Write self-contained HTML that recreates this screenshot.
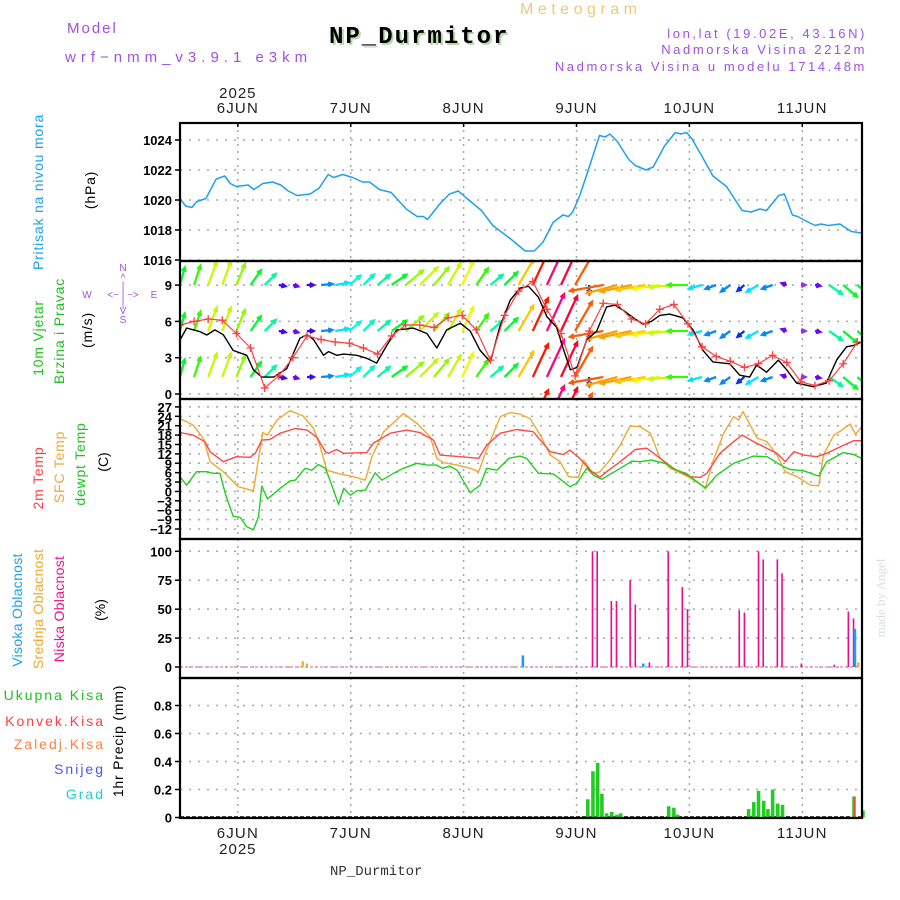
<!DOCTYPE html>
<html><head><meta charset="utf-8"><title>Meteogram NP_Durmitor</title>
<style>
html,body{margin:0;padding:0;background:#fff;}
svg{display:block;font-family:"Liberation Sans",sans-serif;}
</style></head>
<body>
<svg id="chart" width="900" height="900" viewBox="0 0 900 900" xmlns="http://www.w3.org/2000/svg">
<rect x="0" y="0" width="900" height="900" fill="#fff"/>
<g>
<text x="67" y="33" font-size="15" fill="#a050e0" letter-spacing="2">Model</text>
<text x="65" y="62" font-size="15" fill="#a050e0" letter-spacing="5">wrf−nmm_v3.9.1 e3km</text>
<text x="520" y="14" font-size="16" fill="#f0c878" letter-spacing="4.5">Meteogram</text>
<text x="331" y="45" font-size="24" font-weight="bold" font-family="Liberation Mono, monospace" fill="#b8d8b0" letter-spacing="2">NP_Durmitor</text>
<text x="329" y="43" font-size="24" font-weight="bold" font-family="Liberation Mono, monospace" fill="#000" letter-spacing="2">NP_Durmitor</text>
<text x="867" y="38" font-size="13" fill="#a050e0" text-anchor="end" letter-spacing="2.6">lon,lat (19.02E, 43.16N)</text>
<text x="867" y="54" font-size="13" fill="#a050e0" text-anchor="end" letter-spacing="2.6">Nadmorska Visina 2212m</text>
<text x="867" y="71" font-size="13" fill="#a050e0" text-anchor="end" letter-spacing="2.6">Nadmorska Visina u modelu 1714.48m</text>
</g>
<g id="grid"></g>
<g id="marks"></g>
<g id="frames"></g>
<g id="axes"></g>
<g>
<text transform="translate(43,192) rotate(-90)" font-size="14" fill="#1ea0f0" text-anchor="middle" letter-spacing="0.8">Pritisak na nivou mora</text>
<text transform="translate(95,190) rotate(-90)" font-size="14" fill="#000" text-anchor="middle" letter-spacing="0.8">(hPa)</text>
<text transform="translate(43,338) rotate(-90)" font-size="14" fill="#20c020" text-anchor="middle" letter-spacing="0.8">10m Vjetar</text>
<text transform="translate(64,331) rotate(-90)" font-size="14" fill="#20c020" text-anchor="middle" letter-spacing="0.8">Brzina i Pravac</text>
<text transform="translate(92,330) rotate(-90)" font-size="14" fill="#000" text-anchor="middle" letter-spacing="0.8">(m/s)</text>
<g fill="#a050e0" font-size="10" text-anchor="middle">
<text x="123" y="271">N</text><text x="123" y="281">^</text><text x="123" y="289">|</text>
<text x="87" y="298">W</text><text x="123" y="298">&lt;− | −&gt;</text><text x="154" y="298">E</text>
<text x="123" y="307">|</text><text x="123" y="314">V</text><text x="123" y="323">S</text>
</g>
<text transform="translate(43,478) rotate(-90)" font-size="14" fill="#ff4040" text-anchor="middle" letter-spacing="0.8">2m Temp</text>
<text transform="translate(64,467) rotate(-90)" font-size="14" fill="#f0a830" text-anchor="middle" letter-spacing="0.8">SFC Temp</text>
<text transform="translate(85,464) rotate(-90)" font-size="14" fill="#20c020" text-anchor="middle" letter-spacing="0.8">dewpt Temp</text>
<text transform="translate(108,462) rotate(-90)" font-size="14" fill="#000" text-anchor="middle">(C)</text>
<text transform="translate(22,610) rotate(-90)" font-size="14" fill="#1ea0f0" text-anchor="middle" letter-spacing="0.3">Visoka Oblacnost</text>
<text transform="translate(43,609) rotate(-90)" font-size="14" fill="#f0a830" text-anchor="middle" letter-spacing="0.3">Srednja Oblacnost</text>
<text transform="translate(64,609) rotate(-90)" font-size="14" fill="#f0108a" text-anchor="middle" letter-spacing="0.3">Niska Oblacnost</text>
<text transform="translate(105,610) rotate(-90)" font-size="14" fill="#000" text-anchor="middle">(%)</text>
<text x="105" y="700" font-size="14" fill="#20c020" text-anchor="end" letter-spacing="2">Ukupna  Kisa</text>
<text x="105" y="726" font-size="14" fill="#ff4040" text-anchor="end" letter-spacing="2">Konvek.Kisa</text>
<text x="105" y="749" font-size="14" fill="#ff8040" text-anchor="end" letter-spacing="2">Zaledj.Kisa</text>
<text x="105" y="774" font-size="14" fill="#5050ff" text-anchor="end" letter-spacing="2">Snijeg</text>
<text x="105" y="799" font-size="14" fill="#20d0d0" text-anchor="end" letter-spacing="2">Grad</text>
<text transform="translate(123,741) rotate(-90)" font-size="14" fill="#000" text-anchor="middle" letter-spacing="0.8">1hr Precip (mm)</text>
</g>
<text x="330" y="875" font-size="14" font-family="Liberation Mono, monospace" fill="#333">NP_Durmitor</text>
<text transform="translate(885,598) rotate(-90)" font-size="13" font-family="Liberation Serif, serif" fill="#d8e0d8" text-anchor="middle">made by Angel</text>
</svg>
<script>
// ---- data ----
const dayLabels = ["6JUN","7JUN","8JUN","9JUN","10JUN","11JUN"];
const dayHours = [12.3,36.3,60.3,84.3,108.3,132.3];
const presTicks = [1016,1018,1020,1022,1024];
const windTicks = [0,3,6,9];
const tempTicks = [-12,-9,-6,-3,0,3,6,9,12,15,18,21,24,27];
const cloudTicks = [0,25,50,75,100];
const precipTicks = [0,0.2,0.4,0.6,0.8];

const presHours = [0,1.2,2.5,3.6,5.5,7.7,9.5,10.7,11.9,14.5,15.7,17.6,19.7,21.4,23,24.9,27.7,29.6,31.5,32.7,34.6,36.7,38.8,40.3,42.4,44.9,48.1,50.4,51.7,52.6,55.4,57.3,59.2,61,64.1,66.5,70.3,73.4,75.3,77.2,79.3,81.4,82.6,83.5,85,86.8,89.2,90.4,91.4,93,95.4,96.8,99.1,100.6,103,105.3,106.5,107.7,108.8,111,113.3,116.2,119.5,121.4,123.3,124.7,127.3,128.5,130.2,131.3,133.7,135.1,136.2,137.9,140.3,142.7,145];
const presValues = [1020.1,1019.6,1019.5,1019.9,1020.1,1021.4,1021.6,1021.1,1020.9,1021.0,1020.7,1021.1,1021.2,1021.0,1020.6,1020.3,1020.4,1020.8,1021.7,1021.5,1021.7,1021.5,1021.2,1021.2,1020.7,1020.5,1019.4,1018.9,1018.9,1018.7,1019.8,1020.4,1020.6,1020.1,1019.3,1018.3,1017.4,1016.6,1016.6,1017.2,1018.5,1019.0,1018.9,1019.2,1020.3,1022.0,1024.3,1024.2,1024.4,1023.9,1022.7,1022.3,1022.0,1022.2,1023.6,1024.5,1024.4,1024.5,1024.1,1022.9,1021.6,1020.9,1019.3,1019.2,1019.4,1019.3,1020.3,1020.4,1019.0,1018.9,1018.5,1018.3,1018.4,1018.3,1018.4,1017.9,1017.8];

const arrowHours = [0,3,6,9,12,15,18,21,24,27,30,33,36,39,42,45,48,51,54,57,60,63,66,69,72,75,78,81,84,87,90,93,96,99,102,105,108,111,114,117,120,123,126,129,132,135,138,141,144];
const arrowSpeed = [4,4.5,5.5,5.5,5,4,3.5,1.5,1.2,1.5,2.5,3,3.2,3.3,3.5,4,5,5.5,5,5.5,5.8,4.5,3.5,4,6.5,8,9,8.5,7.5,2,7.5,7,7,6.5,6,5.5,4.5,3,2.5,2.5,2,3,2.5,1.2,1,1.2,3.5,4,4];
const arrowDir = [75,72,70,70,68,55,45,-10,-15,0,5,10,40,45,40,35,40,45,50,60,65,55,40,45,60,65,65,65,60,-90,190,195,192,190,188,185,180,195,200,215,220,210,200,160,0,-10,-35,-40,-40];

const windHours = [0,1.4,4.3,5.7,7.4,9.2,11.3,14.2,15.6,17.4,19.9,22.7,25.5,27,28.4,30.5,31.6,33.3,34.8,37.6,39.7,41.8,44,46.1,49.6,52.5,54.6,56.7,59.6,61.7,63.8,66,68,70.2,72.3,74.1,76.2,78,80.1,81.6,83,84.4,86.5,88.6,90.7,92.5,94.3,96.4,98.5,100.2,102,104.1,106.9,109.1,111.2,113.3,116.9,119,121.1,122.6,124.7,127.2,129,131.1,134.6,137.4,139.6,141.7,143.1,144.9];
const windSpeed = [4.46,5.45,5.15,4.88,5.3,4.9,3.6,3.2,2.0,1.4,1.4,2.1,4.6,4.9,4.5,3.2,3.5,3.2,3.3,3.2,2.95,2.55,4.05,5.3,5.45,5.0,3.8,5.3,5.85,5.2,3.6,2.65,5.55,7.75,8.75,8.9,8.0,6.4,5.5,3.6,2.0,2.2,4.5,5.2,7.2,7.35,6.9,6.3,5.75,6.0,6.5,6.6,6.3,5.3,3.6,2.65,2.5,1.55,1.4,2.4,1.8,2.8,2.0,0.9,0.6,0.9,2.8,3.9,4.0,4.3];
const gustHours = [0,3,6,9,12,15,18,21,24,27,30,33,36,39,42,45,48,51,54,57,60,63,66,69,72,75,78,81,84,87,90,93,96,99,102,105,108,111,114,117,120,123,126,129,132,135,138,141,144];
const gustSpeed = [5.7,6.0,6.2,6.1,5.0,3.8,0.5,1.5,3.0,4.8,4.5,4.3,4.2,3.8,3.3,4.8,5.7,5.7,5.5,6.3,6.5,5.3,2.8,6.5,8.5,9.3,7.0,5.0,1.5,5.2,7.5,7.4,6.2,5.8,7.0,7.4,5.8,3.9,3.1,2.7,2.2,2.5,3.2,2.6,1.0,0.7,1.1,2.5,4.3];

const t2Hours = [0,2.8,5.3,6.4,9.2,12,14.9,16,17.4,19.1,21.3,24.5,27,29.1,30.9,31.6,33.3,34.8,39.7,41.1,44.7,48.2,51,53.9,55.3,59.6,63.5,65.2,68.1,71.6,75.1,78.7,81.5,82.9,85,87.2,89.3,90.7,93.6,96.8,99.2,102.1,104.9,108.5,110.6,112,114.8,117.7,119.5,122,124.1,126.9,128.7,130.5,132.6,135.4,137.5,140.4,143.2,144.9];
const t2Values = [18.8,18.0,15.9,12.7,9.5,11.1,10.9,12.2,16.4,16.6,18.6,20.1,19.6,17.3,12.7,12.2,13.4,12.2,12.4,15.4,18.6,19.6,18.8,16.4,11.6,11.1,10.6,14.8,18.6,19.8,19.1,12.7,11.8,13.2,10.6,6.8,4.5,6.3,9.5,13.4,13.8,10.6,7.4,4.7,4.5,5.8,12.2,15.9,18.0,15.9,14.3,12.2,9.5,12.7,11.6,11.1,12.2,14.3,16.2,16.2];
const sfcHours = [0,2.8,5,6.4,9.2,12.4,15.6,17.6,18.6,20.6,23.4,26.2,28.4,29.8,31.2,34,36.9,39.4,40.8,43.3,47.5,50.4,53.2,54.6,56,58.9,61.7,63.5,64.9,68.1,70.2,72.3,74.4,76.6,78.7,80.8,82.6,84.7,85.8,87.9,89.3,91.4,93.6,95.7,97.8,100,102.1,104.2,107.8,111.7,113.4,115.6,117.7,118.8,119.7,122.7,124.8,126.9,128.7,131.2,134,135.8,136.8,139,140.7,142.5,143.6,144.9];
const sfcValues = [23.3,21.2,16.9,9.5,6.3,1.5,0.2,18.8,18.0,22.8,25.8,24.1,20.1,14.3,6.8,5.6,4.7,3.6,11.1,19.1,24.9,21.7,17.5,10.6,9.2,8.4,7.4,6.3,12.2,23.9,25.2,24.7,23.3,18.0,11.6,9.5,4.7,4.5,10.0,5.6,6.3,10.0,14.8,20.9,20.7,18.6,10.6,7.4,4.9,1.3,10.0,18.6,23.9,22.8,25.5,17.0,15.9,11.6,6.3,4.7,2.0,1.8,11.6,18.0,19.6,21.5,18.3,20.5];
const dewHours = [0,1.4,3.5,5.7,7.1,8.5,9.6,11.3,12.8,14.2,15.6,16.7,17.4,18.6,21.3,23.4,24.5,26.6,28,29.4,30.9,31.9,33.7,34.8,36.2,37.6,39.4,41.5,42.9,45.4,47.5,50.4,52.5,54.6,55.7,57.4,58.9,61.7,63.8,65.2,67.4,69.9,72.3,73.7,76.2,79.4,82.9,84.4,86.5,87.9,89.7,91.1,93.6,96.1,97.8,100.3,103.5,104.9,107.8,111.7,114.1,117.7,121.9,124.8,128.3,129.7,132.6,135.8,137.5,141,143.2,144.9];
const dewValues = [4.7,2.0,6.3,6.3,5.8,5.8,-0.6,-7.9,-8.3,-11.3,-12.3,-8.1,1.7,-2.4,1.0,3.4,3.6,7.4,6.8,8.6,7.4,3.6,-4.1,1.0,-1.2,0.2,0.4,6.0,3.6,5.8,7.4,9.0,8.4,8.4,7.4,8.1,6.8,-0.4,2.0,7.4,6.8,10.6,11.3,10.6,5.8,5.6,1.5,2.6,7.4,5.2,3.9,5.2,7.4,9.7,9.5,10.0,8.8,7.2,5.6,1.0,5.2,9.0,11.3,11.1,7.9,7.0,6.6,4.9,9.5,12.4,11.8,10.6];

const lowCloudHours = [87.7,88.7,91.7,92.8,95.7,96.8,99.8,103.8,106.8,107.9,118.9,120,123,124,127,128,132.1,139.1,142.1,143.2];
const lowCloudValues = [100,100,57,57,75,54,4,100,69,50,49,47,100,93,93,81,3,2,48,42];
const midCloudHours = [26.1,27.0,144.2];
const midCloudValues = [5,3,4];
const highCloudHours = [72.9,98.5,143.5];
const highCloudValues = [10,3,33];

const precipHours = [86.7,87.8,88.8,89.7,90.7,91.8,92.9,93.7,103.9,105,105.8,120.9,122,123,124.1,125,126,127.1,128.1,143.3,145.2];
const precipValues = [0.13,0.33,0.39,0.17,0.03,0.04,0.02,0.03,0.08,0.07,0.02,0.06,0.11,0.19,0.12,0.06,0.2,0.10,0.09,0.15,0.05];
const convHours = [143.4,144.6];
const convValues = [0.15,0.01];

// ---- scales ----
const X0 = 180, X1 = 862, PPH = 682/145;
const xS = h => X0 + h*PPH;
const yPres = p => 260 - (p-1016)*15;
const yWind = v => 394 - v*12.1;
const yTemp = t => 529 - (t+12)*3.13;
const yCloud = c => 667 - c*1.157;
const yPrec = r => 817.5 - r*140;
const panels = [
  {name:'pressure', top:123, bot:261},
  {name:'wind', top:261, bot:399},
  {name:'temperature', top:399, bot:539},
  {name:'cloud', top:539, bot:678},
  {name:'precip', top:678, bot:818}
];

const NS = 'http://www.w3.org/2000/svg';
function mk(tag, attrs, parent){
  const e = document.createElementNS(NS, tag);
  for (const k in attrs) e.setAttribute(k, attrs[k]);
  parent.appendChild(e);
  return e;
}
const grid = document.getElementById('grid');
const marks = document.getElementById('marks');
const frames = document.getElementById('frames');
const axes = document.getElementById('axes');

const defs = mk('defs', {}, document.getElementById('chart'));
panels.forEach(p => {
  const cp = mk('clipPath', {id:'clip-'+p.name}, defs);
  mk('rect', {x:X0, y:p.top, width:X1-X0, height:p.bot-p.top}, cp);
});

dayHours.forEach((h, i) => {
  panels.forEach(p => {
    const l = mk('line', {x1:xS(h), x2:xS(h), y1:p.top, y2:p.bot, stroke:'#a8a8a8', 'stroke-width':1.5, 'stroke-dasharray':'2,5'}, grid);
    
    
  });
  const t = mk('text', {x:xS(h), y:113, 'font-size':15, 'text-anchor':'middle', fill:'#222', 'letter-spacing':'1.2'}, axes);
  t.textContent = dayLabels[i];
  
  
  const b = mk('text', {x:xS(h), y:838, 'font-size':15, 'text-anchor':'middle', fill:'#222', 'letter-spacing':'1.2'}, axes);
  b.textContent = dayLabels[i];
  
  
  mk('line', {x1:xS(h), x2:xS(h), y1:123, y2:127, stroke:'#000', 'stroke-width':1.5}, axes);
});
const y1 = mk('text', {x:xS(dayHours[0]), y:98, 'font-size':15, 'text-anchor':'middle', fill:'#222', 'letter-spacing':'1'}, axes);
y1.textContent = '2025';


const y2 = mk('text', {x:xS(dayHours[0]), y:854, 'font-size':15, 'text-anchor':'middle', fill:'#222', 'letter-spacing':'1'}, axes);
y2.textContent = '2025';



function hTicks(ticks, yf, fmt, pname){
  ticks.forEach(v => {
    const y = yf(v);
    const g = mk('line', {x1:X0, x2:X1, y1:y, y2:y, stroke:'#a8a8a8', 'stroke-width':1.5, 'stroke-dasharray':'2,7'}, grid);
    
    
    mk('line', {x1:X0-5, x2:X0, y1:y, y2:y, stroke:'#000', 'stroke-width':1.5}, axes);
    const t = mk('text', {x:X0-8, y:y+5, 'font-size':13, 'font-weight':'bold', 'text-anchor':'end', fill:'#000'}, axes);
    t.textContent = fmt(v);
    
    
  });
}
hTicks(presTicks, yPres, v => String(v), 'pressure');
hTicks(windTicks, yWind, v => String(v), 'wind');
hTicks(tempTicks, yTemp, v => v < 0 ? '−' + Math.abs(v) : String(v), 'temp');
hTicks(cloudTicks, yCloud, v => String(v), 'cloud');
hTicks(precipTicks, yPrec, v => v === 0 ? '0' : v.toFixed(1), 'precip');

panels.forEach(p => {
  const r = mk('rect', {x:X0, y:p.top, width:X1-X0, height:p.bot-p.top, fill:'none', stroke:'#000', 'stroke-width':2.2}, frames);
  
  
});

function line(hs, vs, yf, color, w, name, clip){
  const d = hs.map((h,i) => (i ? 'L' : 'M') + xS(h).toFixed(1) + ',' + yf(vs[i]).toFixed(1)).join('');
  const p = mk('path', {d:d, fill:'none', stroke:color, 'stroke-width':w, 'stroke-linejoin':'round', 'clip-path':'url(#clip-'+clip+')'}, marks);
  
  
  return p;
}

line(presHours, presValues, yPres, '#1ea0f0', 1.5, 'pressure-line', 'pressure');

const cmapS = [1,2,3,4,5,6,7,8,9];
const cmapH = [275,230,185,130,85,58,38,5,-30];
function windColor(s){
  if (s <= cmapS[0]) return 'hsl(275,85%,55%)';
  for (let i=1;i<cmapS.length;i++){
    if (s <= cmapS[i]){
      const f = (s-cmapS[i-1])/(cmapS[i]-cmapS[i-1]);
      let hh = cmapH[i-1] + f*(cmapH[i]-cmapH[i-1]);
      if (hh < 0) hh += 360;
      return 'hsl(' + hh.toFixed(0) + ',95%,50%)';
    }
  }
  return 'hsl(330,95%,50%)';
}
const rowBases = [285, 331, 377, 423];
const wg = mk('g', {'clip-path':'url(#clip-wind)'}, marks);


rowBases.forEach(by => {
  arrowHours.forEach((h,i) => {
    const L = arrowSpeed[i]*4.5;
    const a = arrowDir[i]*Math.PI/180;
    const x0 = xS(h), x1 = x0 + L*Math.cos(a), yA = by - L*Math.sin(a);
    const c = windColor(arrowSpeed[i]);
    const ha = 4.5;
    const l1 = a + Math.PI - 0.45, l2 = a + Math.PI + 0.45;
    const d = 'M'+x0.toFixed(1)+','+by+'L'+x1.toFixed(1)+','+yA.toFixed(1)+
      'M'+(x1+ha*Math.cos(l1)).toFixed(1)+','+(yA-ha*Math.sin(l1)).toFixed(1)+'L'+x1.toFixed(1)+','+yA.toFixed(1)+
      'L'+(x1+ha*Math.cos(l2)).toFixed(1)+','+(yA-ha*Math.sin(l2)).toFixed(1);
    const p = mk('path', {d:d, fill:'none', stroke:c, 'stroke-width':2.3}, wg);
    
    
  });
});
line(windHours, windSpeed, yWind, '#000', 1.4, 'wind-speed-line', 'wind');
line(gustHours, gustSpeed, yWind, '#ff4040', 1.2, 'wind-gust-line', 'wind');
gustHours.forEach((h,i) => {
  const x = xS(h), y = yWind(gustSpeed[i]);
  const p = mk('path', {d:'M'+(x-4)+','+y+'h8M'+x+','+(y-4)+'v8', stroke:'#ff4040', 'stroke-width':1.3, 'clip-path':'url(#clip-wind)'}, marks);
  
  
});

line(sfcHours, sfcValues, yTemp, '#f0a830', 1.4, 'sfc-temp-line', 'temperature');
line(t2Hours, t2Values, yTemp, '#ff4848', 1.4, 'temp-2m-line', 'temperature');
line(dewHours, dewValues, yTemp, '#20d020', 1.4, 'dewpoint-line', 'temperature');

function bars(hs, vs, yf, y0, color, w, name){
  hs.forEach((h,i) => {
    const y = yf(vs[i]);
    const r = mk('rect', {x:xS(h)-w/2, y:y, width:w, height:Math.max(0.5, y0-y), fill:color}, marks);
    
    
  });
}
const zc = mk('line', {x1:X0, x2:X1-4, y1:yCloud(0), y2:yCloud(0), stroke:'#e080b0', 'stroke-width':1.2, 'stroke-dasharray':'3,2'}, marks);


bars(lowCloudHours, lowCloudValues, yCloud, yCloud(0), '#ee0a88', 1.6, 'low-cloud-bar');
bars(midCloudHours, midCloudValues, yCloud, yCloud(0), '#f0a830', 2.2, 'mid-cloud-bar');
bars(highCloudHours, highCloudValues, yCloud, yCloud(0), '#1e9bff', 2.6, 'high-cloud-bar');

const zp = mk('line', {x1:X0, x2:X1, y1:817, y2:817, stroke:'#000', 'stroke-width':1.5, 'stroke-dasharray':'4,2'}, marks);


bars(precipHours, precipValues, yPrec, yPrec(0), '#22cc22', 3.6, 'total-precip-bar');
bars(convHours, convValues, yPrec, yPrec(0), '#ff4040', 1, 'convective-precip-bar');
</script>
</body></html>
